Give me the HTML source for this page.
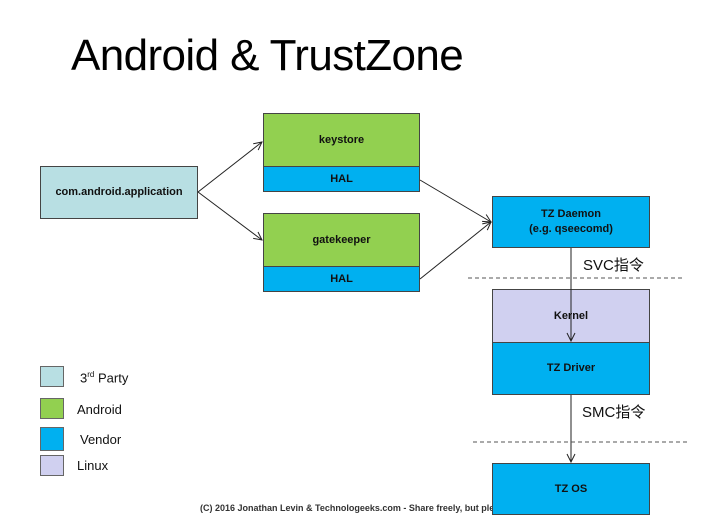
<!DOCTYPE html>
<html><head><meta charset="utf-8"><style>
body{margin:0;width:722px;height:528px;background:#fff;overflow:hidden;position:relative;font-family:"Liberation Sans",Arial,sans-serif}
.b{position:absolute;box-sizing:border-box;border:1px solid #444;display:flex;align-items:center;justify-content:center;font-weight:bold;font-size:11px;color:#111;text-align:center;line-height:15px}
.g{background:#92d050}.v{background:#00b0f0}.t{background:#b8dfe3}.l{background:#d0d0f0}
.lg{position:absolute;left:40px;width:24px;box-sizing:border-box;border:1px solid #666}
.lt{position:absolute;font-size:13px;color:#111}
</style></head><body>
<div style="position:absolute;left:71px;top:31px;font-size:44px;color:#000;letter-spacing:-0.6px">Android &amp; TrustZone</div>
<div style="position:absolute;left:200px;top:503px;font-size:9px;font-weight:bold;color:#333;white-space:nowrap">(C) 2016 Jonathan Levin &amp; Technologeeks.com - Share freely, but please</div>
<div class="b t" style="left:40px;top:166px;width:158px;height:53px">com.android.application</div>
<div class="b g" style="left:263px;top:113px;width:157px;height:54px">keystore</div>
<div class="b v" style="left:263px;top:166px;width:157px;height:26px">HAL</div>
<div class="b g" style="left:263px;top:213px;width:157px;height:54px">gatekeeper</div>
<div class="b v" style="left:263px;top:266px;width:157px;height:26px">HAL</div>
<div class="b v" style="left:492px;top:196px;width:158px;height:52px">TZ Daemon<br>(e.g. qseecomd)</div>
<div class="b l" style="left:492px;top:289px;width:158px;height:54px">Kernel</div>
<div class="b v" style="left:492px;top:342px;width:158px;height:53px">TZ Driver</div>
<div class="b v" style="left:492px;top:463px;width:158px;height:52px">TZ OS</div>
<svg width="722" height="528" style="position:absolute;left:0;top:0">
<defs><marker id="a" markerWidth="10" markerHeight="10" refX="9" refY="5" orient="auto" markerUnits="userSpaceOnUse"><path d="M1,1 L9,5 L1,9" fill="none" stroke="#222" stroke-width="1"/></marker></defs>
<g stroke="#222" stroke-width="1" fill="none">
<line x1="198" y1="192" x2="262" y2="142" marker-end="url(#a)"/>
<line x1="198" y1="192" x2="262" y2="240" marker-end="url(#a)"/>
<line x1="420" y1="180" x2="491" y2="222" marker-end="url(#a)"/>
<line x1="420" y1="279" x2="491" y2="222" marker-end="url(#a)"/>
<line x1="571" y1="248" x2="571" y2="341" marker-end="url(#a)"/>
<line x1="571" y1="395" x2="571" y2="462" marker-end="url(#a)"/>
</g>
<g stroke="#555" stroke-width="1" stroke-dasharray="4,3">
<line x1="468" y1="278" x2="682" y2="278"/>
<line x1="473" y1="442" x2="688" y2="442"/>
</g>
</svg>
<div class="lt" style="left:583px;top:254px;font-size:15px;font-family:'Liberation Sans','Noto Sans CJK SC',sans-serif">SVC指令</div>
<div class="lt" style="left:582px;top:401px;font-size:15px;font-family:'Liberation Sans','Noto Sans CJK SC',sans-serif">SMC指令</div>
<div class="lg t" style="top:366px;height:21px"></div>
<div class="lg g" style="top:398px;height:21px"></div>
<div class="lg v" style="top:427px;height:24px"></div>
<div class="lg l" style="top:455px;height:21px"></div>
<div class="lt" style="left:80px;top:370px">3<sup style="font-size:8px">rd</sup> Party</div>
<div class="lt" style="left:77px;top:402px">Android</div>
<div class="lt" style="left:80px;top:432px">Vendor</div>
<div class="lt" style="left:77px;top:458px">Linux</div>
</body></html>
